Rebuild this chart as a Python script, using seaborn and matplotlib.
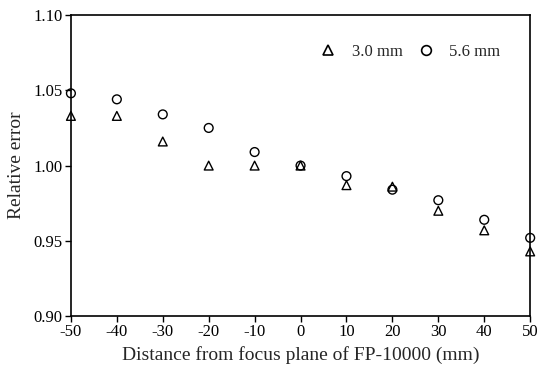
import seaborn as sns
import matplotlib.pyplot as plt
import pandas as pd

distance = [-50, -40, -30, -20, -10, 0, 10, 20, 30, 40, 50]
err_3_0 = [1.033, 1.033, 1.016, 1.000, 1.000, 1.000, 0.987, 0.986, 0.970, 0.957, 0.943]
err_5_6 = [1.048, 1.044, 1.034, 1.025, 1.009, 1.000, 0.993, 0.984, 0.977, 0.964, 0.952]
series = ['3.0 mm', '5.6 mm']

df = pd.concat([
    pd.DataFrame({'x': distance, 'y': err_3_0, 'size': series[0]}),
    pd.DataFrame({'x': distance, 'y': err_5_6, 'size': series[1]}),
])

sns.set_style('ticks')
plt.rcParams['font.family'] = ['Liberation Serif', 'DejaVu Serif']
plt.rcParams['axes.unicode_minus'] = False

fig = plt.figure(figsize=(5.54, 3.8), dpi=100)
ax = fig.add_axes([0.128, 0.168, 0.829, 0.7925])

sns.scatterplot(data=df, x='x', y='y', style='size', markers={'3.0 mm': '^', '5.6 mm': 'o'},
                color='none', edgecolor='black', linewidth=1.0, s=40, ax=ax, clip_on=False)

ax.set_xlim(-50, 50)
ax.set_ylim(0.90, 1.10)
ax.set_xticks(distance)
ax.set_yticks([0.90, 0.95, 1.00, 1.05, 1.10])
ax.set_yticklabels(['0.90', '0.95', '1.00', '1.05', '1.10'])
ax.tick_params(axis='both', direction='out', length=4, width=1, labelsize=12, colors='black', pad=2)
for sp in ax.spines.values():
    sp.set_visible(True)
    sp.set_linewidth(1.2)
    sp.set_color('black')

ax.set_xlabel('Distance from focus plane of FP-10000 (mm)', fontsize=14, labelpad=4)
ax.set_ylabel('Relative error', fontsize=14, labelpad=6)

handles, labels = ax.get_legend_handles_labels()
for h in handles:
    h.set_markerfacecolor('none')
    h.set_markeredgecolor('black')
    h.set_markeredgewidth(1.2)
    h.set_markersize(7)
ax.legend(handles, labels, loc='upper right', ncol=2, frameon=False, fontsize=12,
          handlelength=1.0, handletextpad=0.9, columnspacing=0.9,
          borderpad=0, borderaxespad=0, bbox_to_anchor=(0.935, 0.905))

fig.savefig('out.png', dpi=100)
